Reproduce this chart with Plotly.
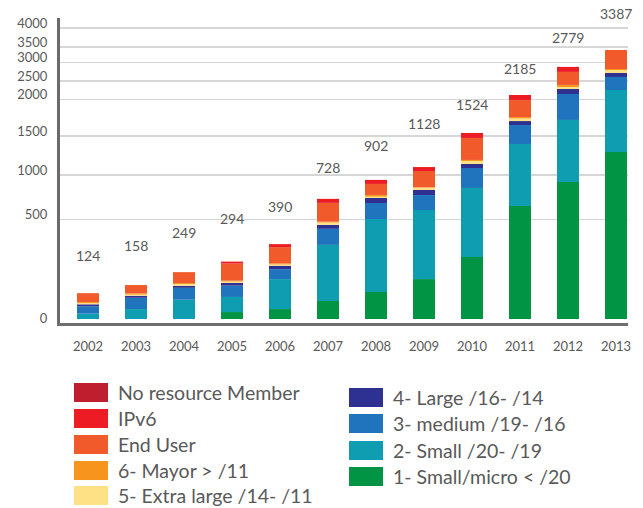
import numpy as np
import plotly.graph_objects as go

# ---------------- data ----------------
years = [str(y) for y in range(2002, 2014)]
totals = [124, 158, 249, 294, 390, 728, 902, 1128, 1524, 2185, 2779, 3387]

small_micro = [0, 0, 0, 35, 50, 91, 136, 201, 312, 653, 922, 1295]
small = [27, 50, 97, 76, 151, 282, 372, 407, 543, 744, 799, 965]
medium = [37, 57, 60, 57, 50, 81, 179, 168, 235, 254, 432, 350]
large = [10, 10, 10, 14, 17, 20, 56, 56, 51, 55, 134, 109]
extra_large = [6, 6, 9, 7, 7, 12, 15, 26, 39, 37, 54, 82]
mayor = [5, 6, 5, 4, 5, 4, 19, 5, 13, 18, 54, 27]
end_user = [45, 42, 55, 86, 82, 198, 123, 188, 282, 234, 353, 577]
ipv6 = [0, 0, 0, 10, 15, 45, 45, 51, 67, 130, 137, 0]
no_resource = [0] * 12

tick_values = [0, 500, 1000, 1500, 2000, 2500, 3000, 3500, 4000]
tick_labels = [str(v) for v in tick_values]

# ---------------- styling / layout ----------------
TEXT = "#595959"
FONT = "Lato, 'Open Sans', sans-serif"

# series bottom -> top
series = [
    ("1- Small/micro < /20", small_micro, "#009444"),
    ("2- Small /20- /19", small, "#0E9DB1"),
    ("3- medium /19- /16", medium, "#1F74BD"),
    ("4- Large /16- /14", large, "#2E3192"),
    ("5- Extra large /14- /11", extra_large, "#FDE184"),
    ("6- Mayor > /11", mayor, "#F7941D"),
    ("End User", end_user, "#F15A2B"),
    ("IPv6", ipv6, "#ED1C24"),
    ("No resource Member", no_resource, "#BE1E2D"),
]

# The original value axis is not linear: each tick sits at its own height
# (in px above the bar baseline).  Values are mapped piecewise-linearly.
TICK_HEIGHTS = [0, 99.3, 144, 183, 219.3, 238, 256.3, 272, 291]


def scale(v):
    return np.interp(v, tick_values, TICK_HEIGHTS)


fig = go.Figure()
cum = np.zeros(len(years))
for name, vals, color in series:
    lo = scale(cum)
    cum = cum + np.asarray(vals, dtype=float)
    hi = scale(cum)
    fig.add_trace(go.Bar(
        x=years, y=hi - lo, base=lo, name=name,
        marker=dict(color=color, line=dict(width=0)),
        width=0.458, showlegend=False, hoverinfo="skip",
    ))

# total labels above the bars (lift in px, as drawn in the original)
LABEL_LIFT = [38, 40, 40, 43, 38, 31, 34, 44, 28, 27, 29, 36]
tops = scale(cum)
for i, (top, tot, lift) in enumerate(zip(tops, totals, LABEL_LIFT)):
    fig.add_annotation(x=i, y=float(top), xref="x", yref="y",
                       text=str(tot), showarrow=False,
                       yshift=lift, yanchor="middle",
                       font=dict(size=14, color=TEXT, family=FONT))

# plot area geometry in pixels
W, H = 643, 508
L, R, T, B = 60, 628, 18, 323


def px_x(px):
    return (px - L) / (R - L)


def px_y(py):
    return (B - py) / (B - T)


# manual legend (two columns, large swatches)
left_col = ["No resource Member", "IPv6", "End User", "6- Mayor > /11",
            "5- Extra large /14- /11"]
right_col = ["4- Large /16- /14", "3- medium /19- /16", "2- Small /20- /19",
             "1- Small/micro < /20"]
colors = {n: c for n, _, c in series}
left_tops = [383, 409, 435, 461, 486]
right_tops = [388, 414, 441, 467]
for names, tops_px, x0 in ((left_col, left_tops, 74), (right_col, right_tops, 349)):
    for name, ty in zip(names, tops_px):
        fig.add_shape(type="rect", xref="paper", yref="paper",
                      x0=px_x(x0), x1=px_x(x0 + 34),
                      y0=px_y(ty + 19), y1=px_y(ty),
                      fillcolor=colors[name], line=dict(width=0), layer="above")
        fig.add_annotation(xref="paper", yref="paper", x=px_x(x0 + 42),
                           y=px_y(ty + 9.5), text=name, showarrow=False,
                           xanchor="left", yanchor="middle",
                           font=dict(size=19.5, color=TEXT, family=FONT))

fig.update_layout(
    width=W, height=H,
    margin=dict(l=L, r=W - R, t=T, b=H - B),
    paper_bgcolor="white", plot_bgcolor="white",
    barmode="overlay",
    font=dict(family=FONT, color=TEXT),
    xaxis=dict(
        type="category", range=[-0.583, 11.25],
        showgrid=False, showline=True, linecolor="#6f6f6f", linewidth=3,
        ticks="", tickfont=dict(size=13, color=TEXT),
        ticklabelstandoff=9, fixedrange=True,
    ),
    yaxis=dict(
        range=[-4, 301],
        tickmode="array",
        tickvals=[-4] + TICK_HEIGHTS[1:],
        ticktext=tick_labels,
        showgrid=True, gridcolor="#D6D6D6", gridwidth=1.3,
        zeroline=False,
        showline=True, linecolor="#6a6a6a", linewidth=3,
        ticks="", tickfont=dict(size=13, color=TEXT),
        ticklabelshift=-5, ticklabelstandoff=7, fixedrange=True,
    ),
)

fig.write_html("out.html",
               config={"displayModeBar": False, "staticPlot": True},
               post_script="document.body.style.margin='0px';"
                           "document.body.style.overflow='hidden';")
